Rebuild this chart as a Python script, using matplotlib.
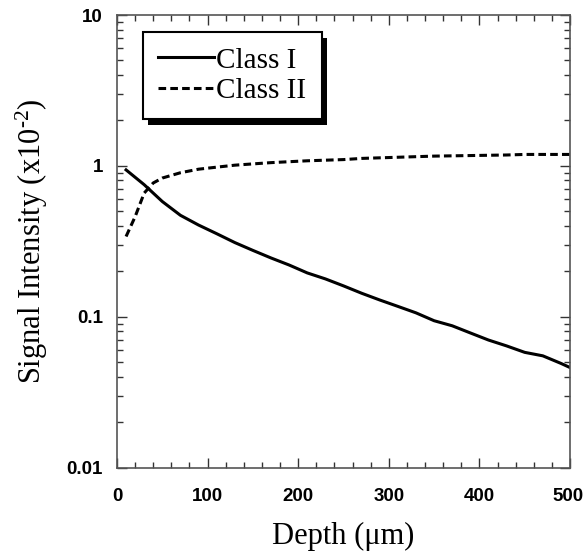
import matplotlib
matplotlib.use("Agg")
import matplotlib.pyplot as plt
import matplotlib.transforms as mtransforms
from matplotlib.ticker import FixedLocator, MultipleLocator, FuncFormatter, LogLocator, NullFormatter
from matplotlib.patches import Rectangle

# ---- data ----
depth = [10, 30, 50, 70, 90, 110, 130, 150, 170, 190, 210, 230, 250, 270,
         290, 310, 330, 350, 370, 390, 410, 430, 450, 470, 490, 500]
class1 = [0.94, 0.75, 0.58, 0.47, 0.405, 0.355, 0.31, 0.275, 0.245, 0.22,
          0.195, 0.178, 0.16, 0.143, 0.129, 0.117, 0.106, 0.094, 0.087,
          0.078, 0.070, 0.064, 0.058, 0.055, 0.049, 0.046]
depth2 = [10, 20, 30, 40, 50, 70, 90, 110, 130, 150, 170, 190, 210, 230, 250,
          270, 290, 310, 330, 350, 370, 390, 410, 430, 450, 470, 490, 500]
class2 = [0.34, 0.46, 0.66, 0.77, 0.83, 0.90, 0.95, 0.98, 1.01, 1.03, 1.05,
          1.065, 1.08, 1.09, 1.10, 1.12, 1.13, 1.14, 1.15, 1.16, 1.165, 1.17,
          1.175, 1.18, 1.19, 1.19, 1.19, 1.19]
labels = ["Class I", "Class II"]
xticks = [0, 100, 200, 300, 400, 500]
yticks = [0.01, 0.1, 1, 10]

plt.rcParams['lines.scale_dashes'] = False
plt.rcParams['mathtext.fontset'] = 'custom'
plt.rcParams['mathtext.rm'] = 'Liberation Serif'
plt.rcParams['mathtext.it'] = 'Liberation Serif'

fig = plt.figure(figsize=(5.84, 5.51), dpi=100)
ax = fig.add_axes([117/584, 1-467.5/551, 453/584, 452.5/551])

ax.plot(depth, class1, color='black', lw=2.2, label=labels[0])
ax.plot(depth2, class2, color='black', lw=2.2, linestyle=(0, (5.5, 3)), label=labels[1])

ax.set_yscale('log')
ax.set_xlim(0, 500)
ax.set_ylim(0.01, 10)

ax.xaxis.set_major_locator(FixedLocator(xticks))
ax.xaxis.set_minor_locator(MultipleLocator(20))
ax.yaxis.set_major_locator(FixedLocator(yticks))
ax.yaxis.set_minor_locator(LogLocator(base=10, subs=range(2, 10)))
ax.yaxis.set_minor_formatter(NullFormatter())
ax.yaxis.set_major_formatter(FuncFormatter(lambda v, p: '%g' % v))

spc = '#555555'
for s in ax.spines.values():
    s.set_color(spc)
    s.set_linewidth(1.2)
ax.tick_params(which='both', direction='in', top=True, right=True, color='#333333', width=1.0)
ax.tick_params(which='major', length=7.5)
ax.tick_params(which='minor', length=4)
ax.tick_params(axis='x', which='major', pad=15)
ax.tick_params(axis='y', which='major', pad=10)
for lab in ax.get_xticklabels() + ax.get_yticklabels():
    lab.set_fontfamily('Liberation Sans')
    lab.set_fontweight('bold')
    lab.set_fontsize(13.5)
# keep the last x label inside the canvas
last = ax.get_xticklabels()[-1]
last.set_horizontalalignment('right')
last.set_transform(last.get_transform() + mtransforms.ScaledTranslation(14/100, 0, fig.dpi_scale_trans))

ax.set_xlabel('Depth (μm)', fontfamily='Liberation Serif', fontsize=22, labelpad=12)
ax.set_ylabel(r'Signal Intensity (x10$^{\text{-}2}$)', fontfamily='Liberation Serif', fontsize=22, labelpad=12)

leg = ax.legend(loc='upper left', bbox_to_anchor=((143-117)/453, (467.5-32)/452.5),
                borderaxespad=0, fancybox=False, frameon=True,
                prop={'family': 'Liberation Serif', 'size': 21},
                handlelength=1.9, handletextpad=0.1, labelspacing=0.13,
                borderpad=0.52)
fr = leg.get_frame()
fr.set_edgecolor('black')
fr.set_linewidth(1.5)
fr.set_alpha(1)

fig.canvas.draw()
bb = leg.get_window_extent()
inv = fig.transFigure.inverted()
(x0, y0), (x1, y1) = inv.transform([[bb.x0 + 5, bb.y0 - 6], [bb.x1 + 5, bb.y1 - 6]])
shadow = Rectangle((x0, y0), x1 - x0, y1 - y0, transform=fig.transFigure,
                   facecolor='black', edgecolor='none', zorder=4.5)
ax.add_artist(shadow)
shadow.set_clip_on(False)

fig.savefig('out.png', dpi=100)
